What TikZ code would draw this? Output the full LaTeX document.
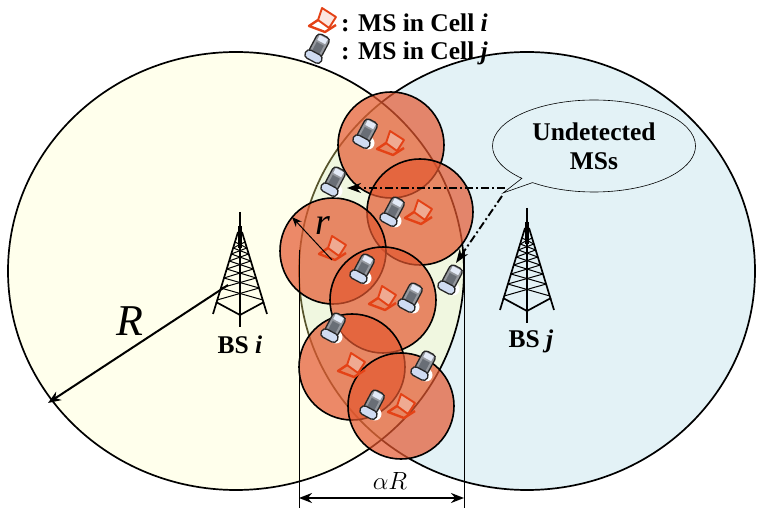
\documentclass[tikz,border=0pt]{standalone}
\usepackage{amsmath}
\usepackage{fontspec}
\setmainfont{Liberation Serif}
\usetikzlibrary{shapes.geometric, shapes.callouts, arrows, arrows.meta, positioning}

\definecolor{celliyellow}{RGB}{255,255,236}
\definecolor{celljblue}{RGB}{227,242,246}
\definecolor{lensgreen}{RGB}{240,247,224}
\definecolor{spotred}{RGB}{228,88,48}
\definecolor{laptopred}{RGB}{228,66,22}
\definecolor{phonegray}{RGB}{105,110,118}
\definecolor{phoneblue}{RGB}{208,220,242}

\begin{document}
\begin{tikzpicture}[
            x=1pt, y=-1pt,
            bigcell/.style={ellipse, draw=black, line width=1.7pt, minimum width=456pt, minimum height=438pt, inner sep=0pt},
            spot/.style={circle, draw=black, line width=1.6pt, fill=spotred, fill opacity=0.7, minimum size=106pt, inner sep=0pt},
            label/.style={font=\fontsize{25.5}{29}\selectfont\bfseries, inner sep=0pt},
            line/.style={draw, -{Stealth[length=13pt, width=10pt]}, line width=2pt},
            dashline/.style={draw, -{Stealth[length=14pt, width=10pt]}, line width=1.9pt, dash pattern=on 8pt off 3pt on 2pt off 3pt},
            tower/.pic={
                \draw[line width=2pt] (0,0) -- (0,115);
                \draw[line width=4.5pt] (0,14) -- (0,36);
                \draw[line width=1.7pt] (-2,20) -- (-27,102) (2,20) -- (27,102);
                \foreach \ya/\yb in {30/36, 36/42, 42/49, 49/57, 57/66, 66/76, 76/88} {
                    \draw[line width=1pt] ({-(\ya-14)*0.31},\ya) -- ({(\yb-14)*0.31},\yb);
                    \draw[line width=1pt] ({(\ya-14)*0.31},\ya) -- ({-(\yb-14)*0.31},\yb);
                }
                \draw[line width=1.7pt] (-24,90) -- (0,103) -- (24,90);
            },
            phone/.pic={
                \fill[white] (3,8) circle (6.5pt);
                \begin{scope}[rotate=-28]
                    \draw[black!85, line width=1.3pt, fill=phonegray!70, rounded corners=4pt] (-7,-16) rectangle (7,6);
                    \fill[phonegray] (-4,-7) rectangle (4,4);
                    \fill[phoneblue!60!white] (-4.5,-14.5) rectangle (4.5,-9);
                    \draw[black!85, line width=1.3pt, fill=phoneblue, rounded corners=4pt] (-9,3) rectangle (9,12);
                \end{scope}
            },
            laptop/.pic={
                \draw[laptopred, line width=1.9pt, line join=round, fill=spotred!30, fill opacity=0.5] (0,-12) -- (14,-3) -- (7,8) -- (-4,0) -- cycle;
                \draw[laptopred, line width=2.4pt, line join=round] (-4,0) -- (-13,6) -- (3,12) -- (14,5);
            }
        ]
            \useasboundingbox (0,0) rectangle (766,518);

            % Cells
            \node [bigcell, fill=celljblue] (cellj) at (527,271) {};
            \node [bigcell, fill=celliyellow, draw=none] (celli) at (236,271) {};
            \begin{scope}
                \clip (236,271) ellipse (228pt and 219pt);
                \fill[lensgreen] (527,271) ellipse (228pt and 219pt);
                \draw[black!50!olive, line width=1.7pt] (527,271) ellipse (228pt and 219pt);
            \end{scope}
            \draw[black, line width=1.7pt] (236,271) ellipse (228pt and 219pt);

            % Spots
            \node [spot] (spota) at (391,145) {};
            \node [spot] (spotb) at (420,212) {};
            \node [spot] (spotc) at (333,251) {};
            \node [spot] (spotd) at (383,300) {};
            \node [spot] (spote) at (352,367) {};
            \node [spot] (spotf) at (401,406) {};

            % Towers
            \pic at (240,212) {tower};
            \pic at (527,208) {tower};
            \node [label] (bsi) at (240,345) {BS \textit{i}};
            \node [label] (bsj) at (531,341) {BS \textit{j}};

            % Legend
            \pic at (322,20) {laptop};
            \pic at (317,50) {phone};
            \node [label, anchor=west] (legendi) at (341,23) {: MS in Cell \textit{i}};
            \node [label, anchor=west] (legendj) at (341,53) {: MS in Cell \textit{j}};

            % Terminals
            \foreach \px/\py in {365/135, 333/183, 392/213, 362/270, 410/299, 450/281, 333/329, 423/367, 372/406} {
                \pic at (\px,\py) {phone};
            }
            \foreach \px/\py in {390/143, 418/212, 332/248, 382/298, 351/365, 401/406} {
                \pic at (\px,\py) {laptop};
            }

            % Callout
            \coordinate (tail) at (503,193);
            \node [ellipse callout, draw, line width=0.6pt, minimum width=203pt, minimum height=92pt, inner sep=0pt,
                   callout absolute pointer=(tail), callout pointer arc=8,
                   label, align=center] (bubble) at (594,146) {Undetected\\MSs};

            % Edges
            \coordinate (hiddena) at (347,188);
            \coordinate (hiddenb) at (456,263);
            \coordinate (tailh) at (505,188);
            \coordinate (taild) at (502,196);
            \path [dashline] (tailh) -- (hiddena);
            \path [dashline] (taild) -- (hiddenb);

            % Radii
            \coordinate (towerleg) at (228,285);
            \coordinate (rimi) at (48,403);
            \path [line] (towerleg) -- (rimi);
            \node [font=\fontsize{44}{48}\selectfont\itshape, inner sep=0pt] (rlabel) at (130,321) {R};
            \coordinate (spotmid) at (332,260);
            \coordinate (spotrim) at (292,217);
            \path [draw, -{Stealth[length=10pt, width=8pt]}, line width=1pt] (spotmid) -- (spotrim);
            \node [font=\fontsize{38}{42}\selectfont\itshape, inner sep=0pt] (rsmall) at (323,226) {r};

            % Width
            \coordinate (widtha) at (299,250);
            \coordinate (widthb) at (299,508);
            \coordinate (widthc) at (464,250);
            \coordinate (widthd) at (464,508);
            \draw[line width=1pt] (widtha) -- (widthb) (widthc) -- (widthd);
            \coordinate (arrowa) at (299,498);
            \coordinate (arrowb) at (464,498);
            \draw[{Stealth[length=13pt, width=10pt]}-{Stealth[length=13pt, width=10pt]}, line width=2pt] (arrowa) -- (arrowb);
            \node [font=\fontsize{30}{34}\selectfont, inner sep=0pt] (width) at (390,481) {$\alpha R$};
        \end{tikzpicture}
\end{document}
